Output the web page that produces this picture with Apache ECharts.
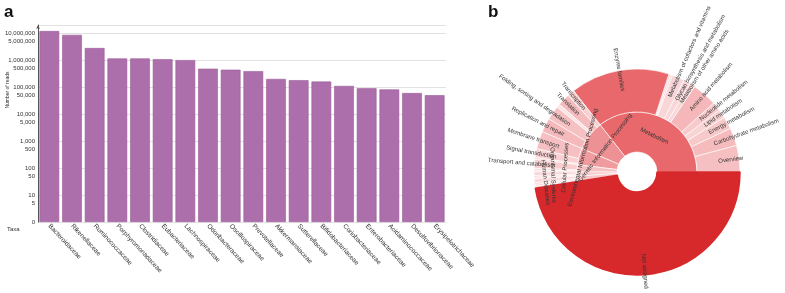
<!DOCTYPE html>
<html>
<head>
<meta charset="utf-8">
<script src="https://cdn.jsdelivr.net/npm/echarts@6/dist/echarts.min.js"></script>
<style>
  html, body { margin: 0; padding: 0; background: #fff; }
  #chart { width: 785px; height: 293px; }
</style>
</head>
<body>
<div id="chart"></div>
<script>
// panel a: reads per family (log scale)
const taxa = [
  'Bacteroidaceae', 'Rikenellaceae', 'Ruminococcaceae', 'Porphyromonadaceae',
  'Clostridiaceae', 'Eubacteriaceae', 'Lachnospiraceae', 'Odoribacteraceae',
  'Oscillospiraceae', 'Prevotellaceae', 'Akkermansiaceae', 'Sutterellaceae',
  'Bifidobacteriaceae', 'Coriobacteriaceae', 'Enterobacteriaceae',
  'Acidaminococcaceae', 'Desulfovibrionaceae', 'Erysipelotrichaceae'
]
const reads = [
  11900000, 8600000, 2800000, 1150000, 1150000, 1080000, 1000000, 480000,
  440000, 390000, 200000, 180000, 160000, 110000, 90000, 82000, 60000, 50000
]
const readTicks = [0, 5, 10, 50, 100, 500, 1000, 5000, 10000, 50000, 100000,
  500000, 1000000, 5000000, 10000000]

// panel b: functional categories (% of reads)
const groupNames = [
  'Metabolism', 'Genetic Information Processing', 'Environmental Information Processing',
  'Cellular Processes', 'Organismal Systems', 'Human Diseases', 'Not assigned'
]
const metabolismNames = [
  'Overview', 'Carbohydrate metabolism', 'Energy metabolism', 'Lipid metabolism',
  'Nucleotide metabolism', 'Amino acid metabolism', 'Metabolism of other amino acids',
  'Glycan biosynthesis and metabolism', 'Metabolism of cofactors and vitamins',
  'Metabolism of terpenoids and polyketides', 'Biosynthesis of other secondary metabolites',
  'Enzyme families'
]
const metabolismShares = [4.17, 2.78, 1.94, 1.39, 1.39, 3.89, 0.83, 1.11, 1.94, 0.28, 0.28, 15.56]
const geneticNames = ['Transcription', 'Translation', 'Genetic information processing',
  'Folding, sorting and degradation', 'Replication and repair']
const geneticShares = [1.11, 1.94, 0.56, 2.22, 2.22]
const environmentalNames = ['Membrane transport', 'Signal transduction', 'Signaling molecules and interaction']
const environmentalShares = [2.78, 1.39, 0.28]
const cellularNames = ['Transport and catabolism', 'Cell motility', 'Cell growth and death']
const cellularShares = [1.39, 0.28, 0.28]
const organismalNames = ['Immune system', 'Endocrine system', 'Nervous system']
const organismalShares = [0.56, 0.28, 0.28]
const diseaseNames = ['Infectious diseases', 'Metabolic diseases', 'Cancers', 'Neurodegenerative diseases']
const diseaseShares = [0.56, 0.28, 0.28, 0.28]
const notAssignedShare = 47.5

// styles
const sliceColor = {
  'Metabolism': '#e8686b',
  'Genetic Information Processing': '#ee9194',
  'Environmental Information Processing': '#f09c9f',
  'Cellular Processes': '#f5c2c4',
  'Organismal Systems': '#f7cbcc',
  'Human Diseases': '#f6c6c8',
  'Not assigned': '#d7282b',
  'Enzyme families': '#e8686b',
  'Overview': '#f6bfc1',
  'Carbohydrate metabolism': '#f5bbbd',
  'Energy metabolism': '#f7c9ca',
  'Lipid metabolism': '#f9d4d5',
  'Nucleotide metabolism': '#f7cacc',
  'Amino acid metabolism': '#f5b7b9',
  'Transcription': '#f8d2d3',
  'Translation': '#f5bcbe',
  'Genetic information processing': '#fbe4e5',
  'Folding, sorting and degradation': '#f6c1c3',
  'Replication and repair': '#f5b9bb',
  'Membrane transport': '#f6c0c2',
  'Signal transduction': '#f8d0d1',
  'Transport and catabolism': '#f8cecf'
}
const unlabeled = [
  'Metabolism of terpenoids and polyketides', 'Biosynthesis of other secondary metabolites',
  'Genetic information processing', 'Signaling molecules and interaction', 'Cell motility',
  'Cell growth and death', 'Immune system', 'Endocrine system', 'Nervous system',
  'Infectious diseases', 'Metabolic diseases', 'Cancers', 'Neurodegenerative diseases'
]
// thin inner slices: label lifted outward by blank lines
// (positive = lines after the name, negative = lines before it, the label flips past 180deg)
const innerLabelLines = {
  'Environmental Information Processing': 4,
  'Cellular Processes': 8,
  'Organismal Systems': -11,
  'Human Diseases': -13
}

const leaf = (name, value) => {
  const item = { name, value, itemStyle: { color: sliceColor[name] || '#f9d6d7' } }
  if (unlabeled.includes(name)) item.label = { show: false }
  return item
}
const group = (name, names, shares) => {
  const item = {
    name,
    itemStyle: { color: sliceColor[name] },
    children: names.map((n, i) => leaf(n, shares[i]))
  }
  const k = innerLabelLines[name]
  if (k > 0) item.label = { formatter: '{b}' + '\n'.repeat(k), lineHeight: 8 }
  if (k < 0) item.label = { formatter: '\n'.repeat(-k) + '{b}', lineHeight: 8 }
  return item
}

const naStyle = { color: sliceColor['Not assigned'], borderColor: sliceColor['Not assigned'], borderWidth: 1.5 }
const sunData = [
  group(groupNames[0], metabolismNames, metabolismShares),
  group(groupNames[1], geneticNames, geneticShares),
  group(groupNames[2], environmentalNames, environmentalShares),
  group(groupNames[3], cellularNames, cellularShares),
  group(groupNames[4], organismalNames, organismalShares),
  group(groupNames[5], diseaseNames, diseaseShares),
  {
    name: groupNames[6],
    label: { show: false },
    itemStyle: naStyle,
    children: [{ name: groupNames[6], value: notAssignedShare, itemStyle: naStyle }]
  }
]

const toLog = (v) => (v <= 1 ? 0 : Math.log10(v))
const tickPos = readTicks.map(toLog)
const fmtTick = (v) => {
  if (v === 0) return '0'
  return Math.round(Math.pow(10, v)).toLocaleString('en-US')
}

const font = 'Liberation Sans, Arial, sans-serif'
const chart = echarts.init(document.getElementById('chart'))

chart.setOption({
  animation: false,
  textStyle: { fontFamily: font },
  grid: { left: 38, top: 25, width: 408, height: 197 },
  xAxis: {
    type: 'category',
    data: taxa,
    axisLine: { show: false },
    axisTick: { show: false },
    axisLabel: { interval: 0, rotate: -47, fontSize: 6.5, color: '#333', margin: 3 }
  },
  yAxis: {
    type: 'value',
    min: 0,
    max: 7.3,
    axisLine: {
      show: true,
      symbol: ['none', 'arrow'],
      symbolSize: [3, 4],
      lineStyle: { color: '#555', width: 1 }
    },
    axisTick: { show: false },
    axisLabel: {
      customValues: tickPos,
      formatter: fmtTick,
      fontSize: 6,
      color: '#333',
      margin: 3
    },
    splitLine: {
      show: true,
      customValues: tickPos,
      lineStyle: { color: '#e2e2e2', width: 1 }
    }
  },
  series: [
    {
      type: 'bar',
      data: reads.map(toLog),
      barCategoryGap: '13%',
      itemStyle: { color: '#ad6fab', borderColor: '#9b5d99', borderWidth: 0.6 }
    },
    {
      type: 'sunburst',
      center: [637, 172],
      radius: [20, 103],
      startAngle: 0,
      clockwise: false,
      sort: null,
      nodeClick: false,
      data: sunData,
      itemStyle: { borderColor: '#fff', borderWidth: 0.6 },
      label: { fontSize: 6, color: '#333', fontFamily: font },
      levels: [
        {},
        { r0: 20, r: 60, label: { rotate: 'tangential' } },
        { r0: 60, r: 103, label: { rotate: 'radial', align: 'left', distance: 22 } }
      ]
    }
  ],
  graphic: [
    { type: 'text', x: 4, y: 4, style: { text: 'a', fontSize: 17, fontWeight: 'bold', fill: '#111', fontFamily: font } },
    { type: 'text', x: 488, y: 4, style: { text: 'b', fontSize: 17, fontWeight: 'bold', fill: '#111', fontFamily: font } },
    {
      type: 'text', x: 8, y: 90, rotation: Math.PI / 2,
      style: { text: 'Number of reads', fontSize: 5, align: 'center', verticalAlign: 'middle', fill: '#333', fontFamily: font }
    },
    { type: 'text', x: 7, y: 226, style: { text: 'Taxa', fontSize: 6, fill: '#333', fontFamily: font } }
  ]
})
</script>
</body>
</html>
